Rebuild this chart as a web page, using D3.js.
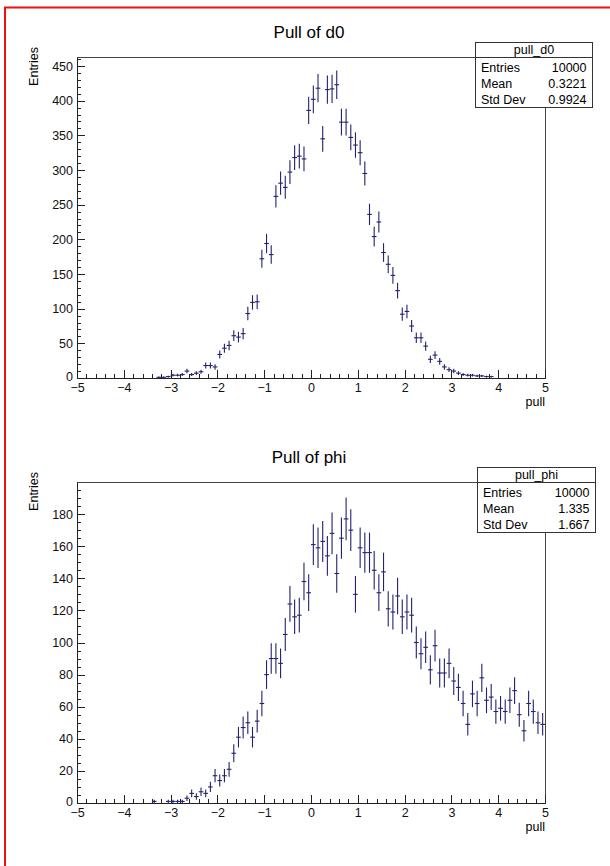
<!DOCTYPE html>
<html>
<head>
<meta charset="utf-8">
<script src="https://cdn.jsdelivr.net/npm/d3@7"></script>
<style>
  body { margin: 0; background: #fff; }
  svg { display: block; font-family: "Liberation Sans", Arial, sans-serif; }
</style>
</head>
<body>
<script>
// histogram binning: 100 bins from -5 to 5
var nBins = 100;
var xMin = -5, xMax = 5;

// counts per bin (zeros = empty bins)
var d0Counts = [
  0, 0, 0, 0, 0, 0, 0, 0, 0, 0,
  0, 0, 0, 0, 0, 0, 0, 1, 1, 2,
  4, 4, 5, 10, 5, 7, 9, 18, 18, 16,
  34, 43, 47, 61, 59, 64, 93, 109, 110, 172,
  194, 178, 262, 281, 275, 297, 318, 320, 316, 386,
  402, 418, 345, 416, 417, 423, 369, 369, 347, 336,
  325, 295, 236, 204, 225, 181, 164, 148, 126, 92,
  96, 75, 58, 58, 46, 27, 33, 24, 16, 12,
  10, 7, 5, 4, 4, 3, 3, 2, 2, 0,
  0, 0, 0, 0, 0, 0, 0, 0, 0, 0
];
var phiCounts = [
  0, 0, 0, 0, 0, 0, 0, 0, 0, 0,
  0, 0, 0, 0, 0, 0, 1, 0, 0, 1,
  1, 1, 1, 3, 6, 4, 7, 6, 10, 17,
  14, 17, 21, 31, 41, 47, 50, 41, 51, 62,
  80, 90, 90, 87, 105, 124, 116, 117, 138, 131,
  161, 159, 163, 154, 168, 143, 165, 177, 170, 130,
  159, 156, 156, 145, 131, 144, 121, 119, 129, 116,
  119, 117, 100, 93, 97, 83, 98, 81, 81, 87,
  76, 72, 62, 49, 68, 62, 78, 64, 66, 57,
  59, 57, 64, 70, 55, 45, 62, 57, 50, 49
];

var xTicks = [-5, -4, -3, -2, -1, 0, 1, 2, 3, 4, 5];
var d0YTicks = [0, 50, 100, 150, 200, 250, 300, 350, 400, 450];
var phiYTicks = [0, 20, 40, 60, 80, 100, 120, 140, 160, 180];

var d0Stats = [["Entries", "10000"], ["Mean", "0.3221"], ["Std Dev", "0.9924"]];
var phiStats = [["Entries", "10000"], ["Mean", "1.335"], ["Std Dev", "1.667"]];

var width = 610;
var height = 866;
var markColor = '#22226e';

var svg = d3.select('body')
  .append('svg')
  .attr('width', width)
  .attr('height', height);

svg.append('rect').attr('width', width).attr('height', height).attr('fill', '#fff');

// red outline (left and top edges visible in the picture)
svg.append('path')
  .attr('d', 'M5,' + height + ' V7.5 H' + width)
  .attr('fill', 'none')
  .attr('stroke', '#f01010')
  .attr('stroke-width', 2);

var drawPanel = function(p) {
  var x = d3.scaleLinear().domain([xMin, xMax]).range([77, 545]);
  var y = d3.scaleLinear().domain([0, p.yMax]).range([p.bottom, p.top]);
  var g = svg.append('g');

  // frame
  g.append('rect')
    .attr('x', 77.5).attr('y', p.top + 0.5)
    .attr('width', 468).attr('height', p.bottom - p.top)
    .attr('fill', 'none').attr('stroke', '#444')
    .attr('shape-rendering', 'crispEdges');

  // minor ticks
  var minorX = d3.range(-5, 5.001, 0.2).map(function(v) { return Math.round(v * 10) / 10; });
  g.append('g')
    .attr('transform', 'translate(0,' + p.bottom + ')')
    .call(d3.axisBottom(x).tickValues(minorX).tickSize(-4).tickSizeOuter(0).tickFormat(''))
    .call(function(s) { s.select('.domain').remove(); });
  g.append('g')
    .attr('transform', 'translate(77,0)')
    .call(d3.axisLeft(y).tickValues(d3.range(0, p.yMax, p.yMinor)).tickSize(-4).tickSizeOuter(0).tickFormat(''))
    .call(function(s) { s.select('.domain').remove(); });

  // major ticks + labels
  var xAxis = g.append('g')
    .attr('transform', 'translate(0,' + p.bottom + ')')
    .call(d3.axisBottom(x).tickValues(xTicks).tickSize(-8).tickSizeOuter(0).tickPadding(5)
      .tickFormat(function(d) { return d < 0 ? '\u2212' + Math.abs(d) : d; }));
  var yAxis = g.append('g')
    .attr('transform', 'translate(77,0)')
    .call(d3.axisLeft(y).tickValues(p.yTicks).tickSize(-8).tickSizeOuter(0).tickPadding(4));

  [xAxis, yAxis].forEach(function(a) {
    a.attr('font-family', null).attr('font-size', null);
    a.selectAll('line').attr('stroke', '#222');
    a.select('.domain').attr('stroke', '#222');
    a.selectAll('text').attr('fill', '#111').style('font-size', '12.5px');
  });
  // pull the y "0" label up a touch so it clears the x "-5" label
  yAxis.selectAll('.tick').filter(function(d) { return d === 0; })
    .select('text').attr('dy', '0.2em');
  g.selectAll('line').attr('shape-rendering', 'crispEdges');
  g.selectAll('.tick line').attr('stroke', '#222');

  // error-bar markers
  var bw = (xMax - xMin) / nBins;
  var bins = p.counts.map(function(c, i) {
    return { lo: xMin + i * bw, hi: xMin + (i + 1) * bw, c: c };
  }).filter(function(d) { return d.c > 0; });

  var marks = g.append('g').attr('stroke', markColor).attr('stroke-width', 1.1);
  marks.selectAll('line.v').data(bins).enter().append('line')
    .attr('class', 'v')
    .attr('x1', function(d) { return x((d.lo + d.hi) / 2); })
    .attr('x2', function(d) { return x((d.lo + d.hi) / 2); })
    .attr('y1', function(d) { return y(Math.max(0, d.c - Math.sqrt(d.c))); })
    .attr('y2', function(d) { return y(d.c + Math.sqrt(d.c)); });
  marks.selectAll('line.h').data(bins).enter().append('line')
    .attr('class', 'h')
    .attr('x1', function(d) { return x(d.lo); })
    .attr('x2', function(d) { return x(d.hi); })
    .attr('y1', function(d) { return y(d.c); })
    .attr('y2', function(d) { return y(d.c); });

  // title and axis titles
  svg.append('text')
    .attr('x', 309).attr('y', p.top - 19)
    .attr('text-anchor', 'middle')
    .style('font-size', '17px')
    .text(p.title);
  svg.append('text')
    .attr('x', 545).attr('y', p.bottom + 28)
    .attr('text-anchor', 'end')
    .style('font-size', '12.5px')
    .text('pull');
  svg.append('text')
    .attr('transform', 'translate(38,' + (p.top - 10) + ') rotate(-90)')
    .attr('text-anchor', 'end')
    .style('font-size', '12.5px')
    .text('Entries');

  // stats box
  var bx = p.boxLeft, bTop = p.top - 14.5, bRight = p.boxRight;
  var box = svg.append('g').attr('shape-rendering', 'crispEdges');
  box.append('rect')
    .attr('x', bx).attr('y', bTop)
    .attr('width', bRight - bx).attr('height', 65)
    .attr('fill', '#fff').attr('stroke', '#333');
  box.append('line')
    .attr('x1', bx).attr('x2', bRight)
    .attr('y1', bTop + 15).attr('y2', bTop + 15)
    .attr('stroke', '#333');
  box.append('text')
    .attr('x', (bx + bRight) / 2).attr('y', bTop + 11)
    .attr('text-anchor', 'middle')
    .style('font-size', '12.5px')
    .text(p.name);
  p.stats.forEach(function(r, i) {
    box.append('text')
      .attr('x', bx + 5.5).attr('y', bTop + 29.5 + i * 15.8)
      .style('font-size', '12.5px')
      .text(r[0]);
    box.append('text')
      .attr('x', bRight - 6).attr('y', bTop + 29.5 + i * 15.8)
      .attr('text-anchor', 'end')
      .style('font-size', '12.5px')
      .text(r[1]);
  });
};

drawPanel({
  title: 'Pull of d0', name: 'pull_d0', counts: d0Counts, stats: d0Stats,
  top: 57, bottom: 378, yMax: 463, yTicks: d0YTicks, yMinor: 10,
  boxLeft: 475.5, boxRight: 592.5
});
drawPanel({
  title: 'Pull of phi', name: 'pull_phi', counts: phiCounts, stats: phiStats,
  top: 482, bottom: 803, yMax: 200, yTicks: phiYTicks, yMinor: 5,
  boxLeft: 477.5, boxRight: 595.5
});
</script>
</body>
</html>
